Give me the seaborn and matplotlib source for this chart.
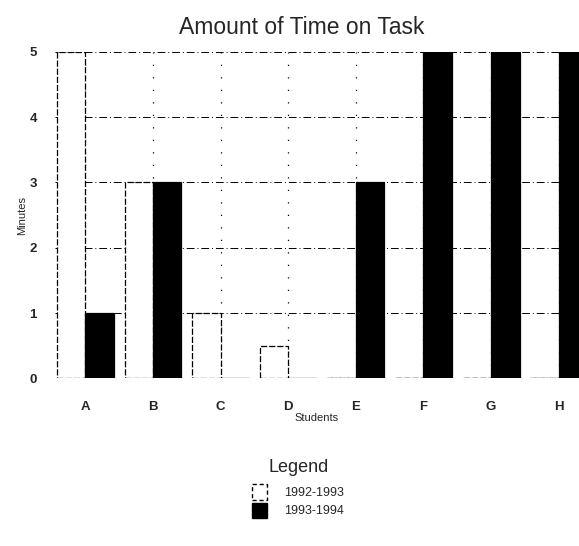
import numpy as np
import pandas as pd
import matplotlib
matplotlib.use("Agg")
import matplotlib.pyplot as plt
import seaborn as sns
from matplotlib.patches import Patch

# =========================
# DATA
# =========================
students = ["A", "B", "C", "D", "E", "F", "G", "H"]
year_labels = ["1992-1993", "1993-1994"]
minutes_9293 = [5, 3, 1, 0.5, 0, 0, 0, 0]
minutes_9394 = [1, 3, 0, 0, 3, 5, 5, 5]

df = pd.DataFrame({
    "Students": students * 2,
    "Year": [year_labels[0]] * len(students) + [year_labels[1]] * len(students),
    "Minutes": minutes_9293 + minutes_9394,
})

# =========================
# PLOT
# =========================
sns.set_style("white")
plt.rcParams["font.family"] = ["Liberation Sans", "DejaVu Sans"]

fig = plt.figure(figsize=(5.79, 5.46), dpi=100)
ax = fig.add_axes([0.095, 0.307, 0.905, 0.598])

sns.barplot(data=df, x="Students", y="Minutes", hue="Year",
            palette={year_labels[0]: "white", year_labels[1]: "black"},
            edgecolor="black", linewidth=0.9, width=0.84,
            legend=False, ax=ax)

# dashed outline on the white bars like the scan
for bar in ax.containers[0]:
    bar.set_linestyle((0, (5, 1.5)))

ax.set_ylim(0, 5)
ax.set_xlim(-0.45, 7.3)
ax.set_yticks(range(6))
ax.yaxis.grid(True, color="black", linestyle=(0, (8, 3, 1, 3)), linewidth=0.7)
ax.xaxis.grid(True, color="black", linestyle=(0, (1, 9)), linewidth=0.9)
ax.set_axisbelow(True)
sns.despine(ax=ax, left=True, bottom=True)
ax.tick_params(length=0, labelsize=9.5)
for lbl in ax.get_xticklabels() + ax.get_yticklabels():
    lbl.set_fontweight("bold")
ax.tick_params(axis="x", pad=16)
ax.tick_params(axis="y", pad=13)

ax.set_xlabel("Students", fontsize=8, labelpad=0)
ax.set_ylabel("Minutes", fontsize=8, labelpad=2)
ax.set_title("Amount of Time on Task", fontsize=16.5, pad=13, x=0.47)

# legend underneath
handles = [
    Patch(facecolor="white", edgecolor="black", linestyle=(0, (3, 2)), label=year_labels[0]),
    Patch(facecolor="black", edgecolor="black", label=year_labels[1]),
]
leg = fig.legend(handles=handles, loc="upper center", bbox_to_anchor=(0.515, 0.18),
                 title="Legend", frameon=False, fontsize=9,
                 title_fontsize=13, handlelength=1.2, handleheight=1.5,
                 handletextpad=1.4, labelspacing=0.25)
leg._legend_box.sep = 6

fig.savefig("out.png", dpi=100)
